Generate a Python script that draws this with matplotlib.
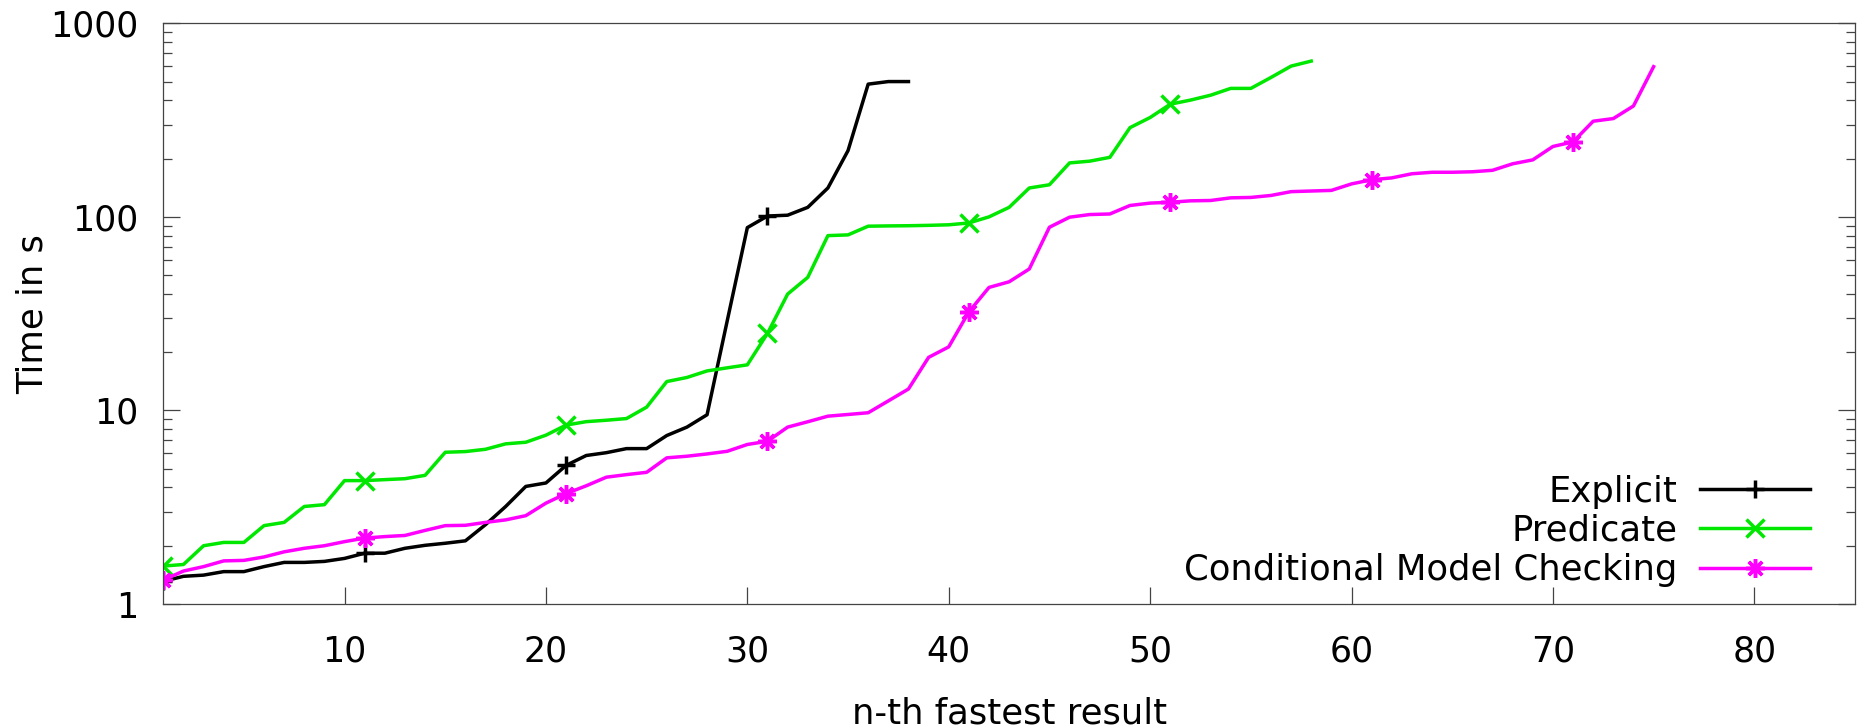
import matplotlib
matplotlib.use("Agg")
import matplotlib.pyplot as plt
import matplotlib.ticker as ptk

# times in seconds, sorted, one value per n-th fastest result
time_explicit = [1.31, 1.39, 1.41, 1.47, 1.47, 1.56, 1.64, 1.64, 1.66, 1.72,
                 1.83, 1.83, 1.94, 2.01, 2.06, 2.12, 2.57, 3.19, 4.05, 4.22,
                 5.2, 5.85, 6.05, 6.35, 6.35, 7.42, 8.2, 9.5, 29, 88,
                 101, 102, 112, 141, 220, 485, 500, 500]
time_predicate = [1.57, 1.6, 2.0, 2.08, 2.08, 2.54, 2.64, 3.19, 3.26, 4.34,
                  4.34, 4.39, 4.44, 4.62, 6.08, 6.13, 6.3, 6.72, 6.85, 7.45,
                  8.4, 8.75, 8.9, 9.08, 10.4, 14.1, 14.8, 16.0, 16.6, 17.2,
                  25.0, 39.9, 48.7, 80, 80.7, 89.5, 89.8, 90, 90.4, 91,
                  93, 100, 112, 141, 146.5, 190, 194, 203, 289, 326,
                  382, 401, 425, 461, 461, 525, 601, 638]
time_cmc = [1.33, 1.48, 1.56, 1.67, 1.68, 1.75, 1.86, 1.94, 2.0, 2.1,
            2.19, 2.23, 2.26, 2.4, 2.54, 2.55, 2.64, 2.72, 2.86, 3.32,
            3.72, 4.08, 4.52, 4.66, 4.79, 5.69, 5.8, 5.96, 6.15, 6.67,
            6.93, 8.2, 8.74, 9.34, 9.53, 9.73, 11.2, 12.9, 18.8, 21.3,
            32.3, 43.2, 46.2, 53.8, 88.4, 99.6, 102.8, 103.5, 114.5, 117.8,
            119, 121, 121.5, 125.4, 126, 129, 135, 136, 137, 148,
            155.5, 159, 167, 170, 170, 171, 174, 188, 197, 231,
            244, 312, 322, 374, 597]

series_names = ["Explicit", "Predicate", "Conditional Model Checking"]
x_ticks = [10, 20, 30, 40, 50, 60, 70, 80]
y_ticks = [1, 10, 100, 1000]

plt.rcParams['font.family'] = ['DejaVu Sans']

fig = plt.figure(figsize=(18.57, 7.25), dpi=100, facecolor='white')
ax = fig.add_axes([163.3 / 1857, 121 / 725, 1691.7 / 1857, 580.7 / 725])

styles = [
    dict(color='#000000', marker='+'),
    dict(color='#00e800', marker='x'),
    dict(color='#ff00ff', marker=(8, 2, 0)),
]
for values, name, st in zip([time_explicit, time_predicate, time_cmc], series_names, styles):
    ranks = range(1, len(values) + 1)
    ax.plot(ranks, values, color=st['color'], marker=st['marker'], markevery=10,
            markersize=13.5, markeredgewidth=2.5, linewidth=2.5, label=name)

ax.set_yscale('log')
ax.set_xlim(1, 85)
ax.set_ylim(1, 1000)

ax.xaxis.set_major_locator(ptk.FixedLocator(x_ticks))
ax.xaxis.set_minor_locator(ptk.NullLocator())
ax.yaxis.set_major_locator(ptk.FixedLocator(y_ticks))
ax.yaxis.set_major_formatter(ptk.FixedFormatter([str(v) for v in y_ticks]))
ax.yaxis.set_minor_locator(ptk.LogLocator(base=10, subs=range(2, 10)))
ax.yaxis.set_minor_formatter(ptk.NullFormatter())

ax.tick_params(which='both', direction='in', right=True, top=False,
               color='#444444', width=0.9)
ax.tick_params(which='major', length=12, labelsize=25)
ax.tick_params(which='minor', length=6.5)
ax.tick_params(axis='x', pad=22)
ax.tick_params(axis='y', pad=18)
for sp in ax.spines.values():
    sp.set_color('#444444')
    sp.set_linewidth(0.9)

ax.set_xlabel("n-th fastest result", fontsize=25.5)
ax.set_ylabel("Time in s", fontsize=25.5)
ax.xaxis.set_label_coords(0.5, -0.16)
ax.yaxis.set_label_coords(-0.067, 0.5)

leg = ax.legend(loc='lower right', bbox_to_anchor=(0.9734, 0.029), frameon=False,
                markerfirst=False, fontsize=25.5, handlelength=3.1,
                handletextpad=0.65, labelspacing=0.15, borderpad=0, borderaxespad=0)

plt.savefig("out.png", dpi=100, facecolor='white')
plt.close("all")
